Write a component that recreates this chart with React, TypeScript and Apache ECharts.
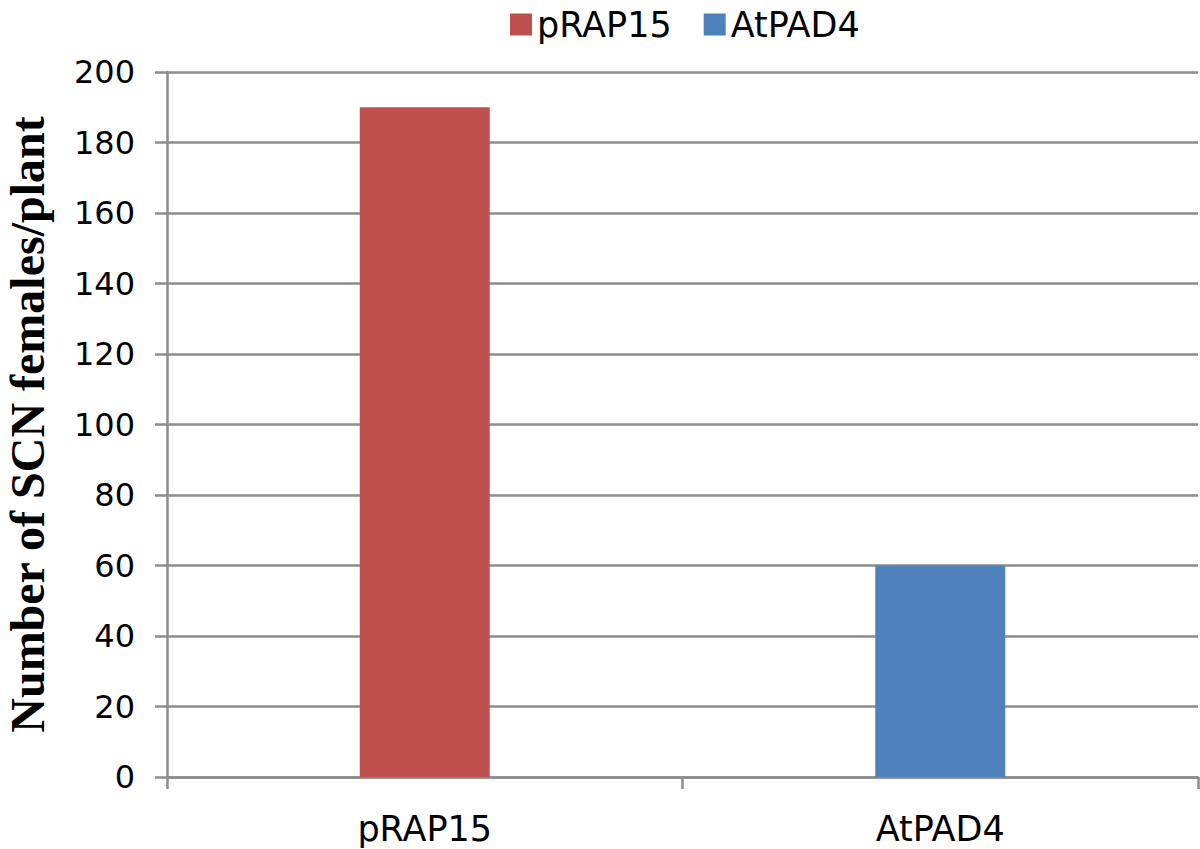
import React, { useEffect, useRef } from "react";
import * as echarts from "echarts";

const categories = ["pRAP15", "AtPAD4"];
const seriesNames = ["pRAP15", "AtPAD4"];
const pRAP15Values = [190, null];
const atPAD4Values = [null, 60];
const colors = ["#C0504D", "#4F81BD"];
const yTitle = "Number of SCN females/plant";

export default function App() {
  const ref = useRef<HTMLDivElement>(null);
  useEffect(() => {
    if (!ref.current) return;
    const chart = echarts.init(ref.current, undefined, { renderer: "svg" });
    const gray = "#8c8c8c";
    const sans = "DejaVu Sans, Liberation Sans, Arial, sans-serif";
    chart.setOption({
      animation: false,
      backgroundColor: "#ffffff",
      textStyle: { fontFamily: sans },
      legend: {
        top: 2,
        left: 505,
        icon: "rect",
        itemWidth: 22,
        itemHeight: 22,
        itemGap: 32,
        textStyle: { fontSize: 35, color: "#000", fontFamily: sans },
        data: seriesNames,
      },
      grid: { left: 167, right: 2, top: 72, bottom: 72, containLabel: false, outerBoundsMode: "none" },
      xAxis: {
        type: "category",
        data: categories,
        boundaryGap: true,
        axisLine: { show: true, lineStyle: { color: gray, width: 2.5 } },
        axisTick: { show: true, length: 12, lineStyle: { color: gray, width: 2.5 } },
        axisLabel: { fontSize: 35, color: "#000", margin: 34, fontFamily: sans },
      },
      yAxis: {
        type: "value",
        min: 0,
        max: 200,
        interval: 20,
        name: yTitle,
        nameLocation: "middle",
        nameRotate: 90,
        nameGap: 116,
        nameTextStyle: { fontSize: 48, fontWeight: "bold", color: "#000", fontFamily: "Liberation Serif, Times New Roman, serif" },
        axisLine: { show: true, lineStyle: { color: gray, width: 2.5 } },
        axisTick: { show: true, length: 12, lineStyle: { color: gray, width: 2.5 } },
        splitLine: { show: true, lineStyle: { color: gray, width: 2.5 } },
        axisLabel: { fontSize: 32, color: "#000", margin: 32, fontFamily: sans },
      },
      series: [
        {
          name: seriesNames[0],
          type: "bar",
          stack: "total",
          barWidth: 130,
          data: pRAP15Values,
          itemStyle: { color: colors[0] },
        },
        {
          name: seriesNames[1],
          type: "bar",
          stack: "total",
          barWidth: 130,
          data: atPAD4Values,
          itemStyle: { color: colors[1] },
        },
      ],
    });
    return () => chart.dispose();
  }, []);
  return <div ref={ref} style={{ position: "fixed", left: 0, top: 0, width: 1200, height: 849 }} />;
}
